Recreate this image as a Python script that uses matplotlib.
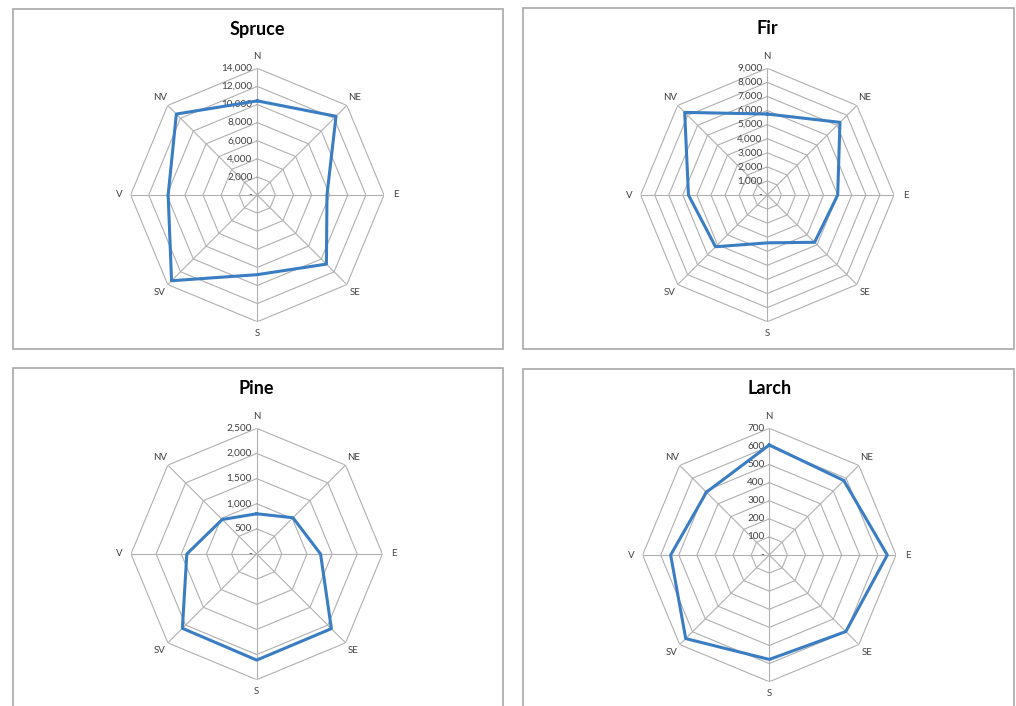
import numpy as np
import matplotlib.pyplot as plt
from matplotlib.patches import Rectangle

# 方位ごとの樹種別データ(レーダーチャート)
directions = ['N', 'NE', 'E', 'SE', 'S', 'SV', 'V', 'NV']
spruce = [10400, 12300, 7700, 10800, 8800, 13400, 9850, 12650]
fir = [5750, 7300, 5000, 4750, 3400, 5200, 5600, 8300]
pine = [800, 1020, 1270, 2100, 2110, 2090, 1390, 970]
larch = [608, 582, 652, 598, 577, 653, 545, 491]

W, H = 1016, 706
fig = plt.figure(figsize=(W / 100, H / 100), dpi=100)
fig.patch.set_facecolor('white')

grid_color = '#b0b0b0'
line_color = '#3a7dc2'

# 枠 (ピクセル: 左, 上, 右, 下)
boxes = [(13, 9, 503, 349), (523, 8, 1014, 349),
         (13, 368, 503, 712), (523, 369, 1014, 712)]
for x0, y0, x1, y1 in boxes:
    fig.patches.append(Rectangle((x0 / W, 1 - y1 / H), (x1 - x0) / W, (y1 - y0) / H,
                                 transform=fig.transFigure, fill=False,
                                 edgecolor='#a8a8a8', linewidth=1.2))

# (タイトル, データ, 最大値, 目盛り間隔, 中心x, 中心y, 半径, タイトルy)
panels = [
    ('Spruce', spruce, 14000, 2000, 257.3, 195, 126.7, 30),
    ('Fir', fir, 9000, 1000, 767.3, 195, 126.7, 29),
    ('Pine', pine, 2500, 500, 256.7, 554, 125.7, 389),
    ('Larch', larch, 700, 100, 769.3, 555, 126.7, 389),
]

theta = np.linspace(0, 2 * np.pi, len(directions), endpoint=False)
theta_c = np.append(theta, theta[0])

for title, vals, rmax, step, cx, cy, R, ty in panels:
    ax = fig.add_axes([(cx - R) / W, (H - cy - R) / H, 2 * R / W, 2 * R / H],
                      projection='polar')
    ax.set_theta_zero_location('N')
    ax.set_theta_direction(-1)
    ax.set_ylim(0, rmax)
    ax.grid(False)
    ax.set_xticks([])
    ax.set_yticks([])
    ax.spines['polar'].set_visible(False)
    ax.patch.set_alpha(0)

    # 多角形のグリッド
    for r in np.arange(step, rmax + step / 2, step):
        ax.plot(theta_c, [r] * len(theta_c), color=grid_color, lw=0.8, zorder=1)
    for t in theta:
        ax.plot([t, t], [0, rmax], color=grid_color, lw=0.8, zorder=1)

    # 目盛りラベル
    for r in np.arange(0, rmax + step / 2, step):
        lab = '-' if r == 0 else f'{int(r):,}'
        ax.annotate(lab, xy=(0, r), xytext=(-3.5, 0), textcoords='offset points',
                    ha='right', va='center', fontsize=7.2, color='#404040',
                    family='Lato', annotation_clip=False)

    # 方位ラベル
    for t, d in zip(theta, directions):
        ax.text(t, rmax * 1.09, d, ha='center', va='center', fontsize=7,
                color='#404040', family='Lato')

    ax.plot(theta_c, list(vals) + [vals[0]], color=line_color, lw=2.2, zorder=3)

    fig.text(cx / W, 1 - ty / H, title, ha='center', va='center',
             fontsize=13, fontweight='bold', family='Lato')

fig.savefig('out.png', dpi=100)
